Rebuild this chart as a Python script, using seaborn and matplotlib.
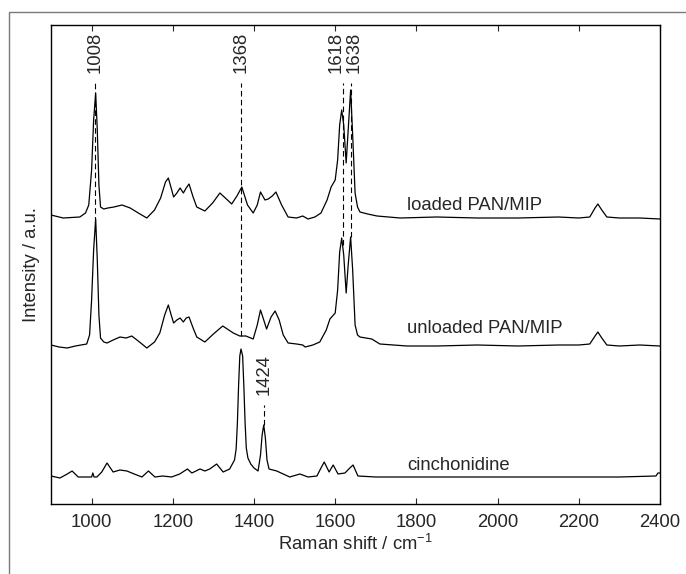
import numpy as np
import pandas as pd
import seaborn as sns
import matplotlib.pyplot as plt
from matplotlib.patches import Rectangle

# spectra (shift in cm-1, intensity in arbitrary units, already offset)
loaded_shift = [900, 930, 971, 985, 993, 1000, 1005, 1010, 1014, 1018, 1022, 1030, 1040, 1055, 1075,
                1095, 1115, 1136, 1155, 1170, 1182, 1189, 1196, 1202, 1210, 1218, 1226, 1233, 1240,
                1250, 1259, 1279, 1298, 1316, 1332, 1345, 1358, 1370, 1384, 1398, 1408, 1416, 1427,
                1435, 1445, 1454, 1468, 1484, 1505, 1520, 1533, 1550, 1565, 1580, 1590, 1600, 1606,
                1611, 1616, 1621, 1627, 1632, 1638, 1643, 1649, 1655, 1661, 1680, 1703, 1760, 1850,
                1950, 2050, 2150, 2200, 2227, 2240, 2247, 2255, 2269, 2300, 2350, 2400]
loaded_int = [289, 286, 287, 291, 299, 334, 384, 411, 374, 319, 297, 295, 296, 297, 299,
              296, 291, 286, 294, 306, 322, 326, 316, 307, 311, 316, 311, 316, 320,
              307, 297, 293, 301, 311, 305, 300, 308, 317, 299, 291, 299, 312, 304,
              305, 308, 312, 299, 287, 286, 288, 285, 287, 291, 304, 317, 324, 344,
              379, 394, 379, 341, 374, 414, 369, 311, 297, 292, 290, 288, 286, 287,
              286, 286, 287, 286, 287, 296, 300, 295, 287, 286, 286, 285]

unloaded_shift = [900, 920, 940, 960, 988, 995, 1000, 1005, 1010, 1014, 1018, 1022, 1030, 1038, 1053,
                  1070, 1085, 1099, 1118, 1136, 1155, 1168, 1180, 1189, 1196, 1202, 1210, 1218, 1226,
                  1233, 1240, 1250, 1259, 1279, 1300, 1323, 1349, 1365, 1380, 1398, 1408, 1416, 1424,
                  1431, 1442, 1452, 1462, 1472, 1484, 1505, 1520, 1526, 1545, 1562, 1578, 1587, 1600,
                  1606, 1611, 1616, 1621, 1627, 1632, 1638, 1643, 1649, 1655, 1661, 1690, 1710, 1777,
                  1850, 1950, 2050, 2150, 2200, 2227, 2240, 2247, 2255, 2269, 2300, 2350, 2400]
unloaded_int = [159, 157, 156, 158, 160, 169, 204, 254, 285, 244, 189, 166, 162, 161, 164,
                167, 166, 168, 162, 156, 162, 171, 189, 199, 189, 181, 184, 186, 182,
                186, 187, 176, 167, 162, 170, 178, 171, 168, 168, 165, 179, 194, 184,
                175, 187, 193, 184, 169, 161, 160, 159, 157, 159, 162, 174, 185, 191,
                214, 252, 266, 249, 211, 239, 267, 234, 179, 169, 167, 165, 160, 158,
                158, 159, 158, 159, 159, 160, 168, 172, 167, 159, 158, 159, 158]

cinch_shift = [900, 922, 940, 952, 967, 1000, 1003, 1006, 1013, 1025, 1038, 1053, 1070, 1087, 1105,
               1124, 1140, 1156, 1175, 1197, 1217, 1236, 1247, 1267, 1279, 1291, 1308, 1324, 1340,
               1348, 1352, 1356, 1359, 1362, 1365, 1368, 1372, 1375, 1378, 1381, 1385, 1392, 1400,
               1410, 1416, 1420, 1424, 1428, 1432, 1437, 1456, 1472, 1488, 1513, 1533, 1555, 1565,
               1573, 1585, 1595, 1607, 1624, 1636, 1644, 1656, 1700, 1800, 1900, 2000, 2100, 2200,
               2300, 2390, 2395, 2400]
cinch_int = [28, 26, 30, 33, 27, 27, 31, 27, 27, 32, 41, 32, 34, 33, 30,
             27, 33, 27, 28, 27, 30, 35, 31, 35, 33, 35, 40, 32, 35,
             41, 44, 55, 80, 118, 148, 155, 148, 118, 82, 56, 46, 40, 36,
             33, 49, 69, 79, 66, 44, 35, 33, 30, 27, 30, 27, 28, 36,
             42, 32, 39, 30, 31, 36, 39, 28, 27, 27, 27, 27, 27, 27,
             27, 28, 31, 31]

names = ["loaded PAN/MIP", "unloaded PAN/MIP", "cinchonidine"]
label_y = [294, 171, 34]

# marked bands, where their labels sit, and the spectrum the dashed line ends on
marks_top = [1008, 1368, 1618, 1638]
marks_top_text_x = [1008, 1368, 1602, 1646]
marks_top_end = ["unloaded PAN/MIP"] * 4
mark_low = 1424

sns.set_style("ticks")
plt.rcParams['font.family'] = ['Liberation Sans', 'DejaVu Sans']
plt.rcParams['mathtext.default'] = 'regular'

fig = plt.figure(figsize=(6.86, 5.74), dpi=100)
ax = fig.add_axes([51 / 686, 70 / 574, 609 / 686, 479 / 574])

spectra = {
    "loaded PAN/MIP": (loaded_shift, loaded_int),
    "unloaded PAN/MIP": (unloaded_shift, unloaded_int),
    "cinchonidine": (cinch_shift, cinch_int),
}
for name in names:
    sx, sy = spectra[name]
    df = pd.DataFrame({"shift": sx, "intensity": sy})
    sns.lineplot(data=df, x="shift", y="intensity", ax=ax, color="black",
                 lw=0.9, sort=False, estimator=None)

fs = 13.3
for name, ly in zip(names, label_y):
    ax.text(1778, ly, name, fontsize=fs, ha="left", va="baseline")

top_y = 421
for m, tx, end in zip(marks_top, marks_top_text_x, marks_top_end):
    sx, sy = spectra[end]
    y0 = np.interp(m, sx, sy)
    ax.plot([m, m], [y0, top_y], color="black", lw=0.8, ls=(0, (5, 3)))
    ax.text(tx, top_y + 10, str(m), rotation=90, ha="center", va="bottom", fontsize=fs)

y0 = np.interp(mark_low, cinch_shift, cinch_int)
ax.plot([mark_low, mark_low], [y0, 99], color="black", lw=0.8, ls=(0, (5, 3)))
ax.text(mark_low, 109, str(mark_low), rotation=90, ha="center", va="bottom", fontsize=fs)

ax.set_xlim(900, 2400)
ax.set_ylim(0, 479)
ax.set_xticks(range(1000, 2401, 200))
ax.set_yticks([])
ax.tick_params(axis="x", direction="in", top=True, bottom=True, length=4.3,
               width=0.8, labelsize=fs, pad=7)
for s in ax.spines.values():
    s.set_linewidth(1.0)
    s.set_color("black")
ax.set_xlabel("Raman shift / cm$^{-1}$", fontsize=fs, labelpad=2)
ax.set_ylabel("Intensity / a.u.", fontsize=fs, labelpad=8)

fig.add_artist(Rectangle((9 / 686, -0.1), 1.2, (574 - 12) / 574 + 0.1,
                         transform=fig.transFigure, fill=False,
                         edgecolor="#7a7a7a", lw=1.0))

fig.savefig("out.png", dpi=100)
